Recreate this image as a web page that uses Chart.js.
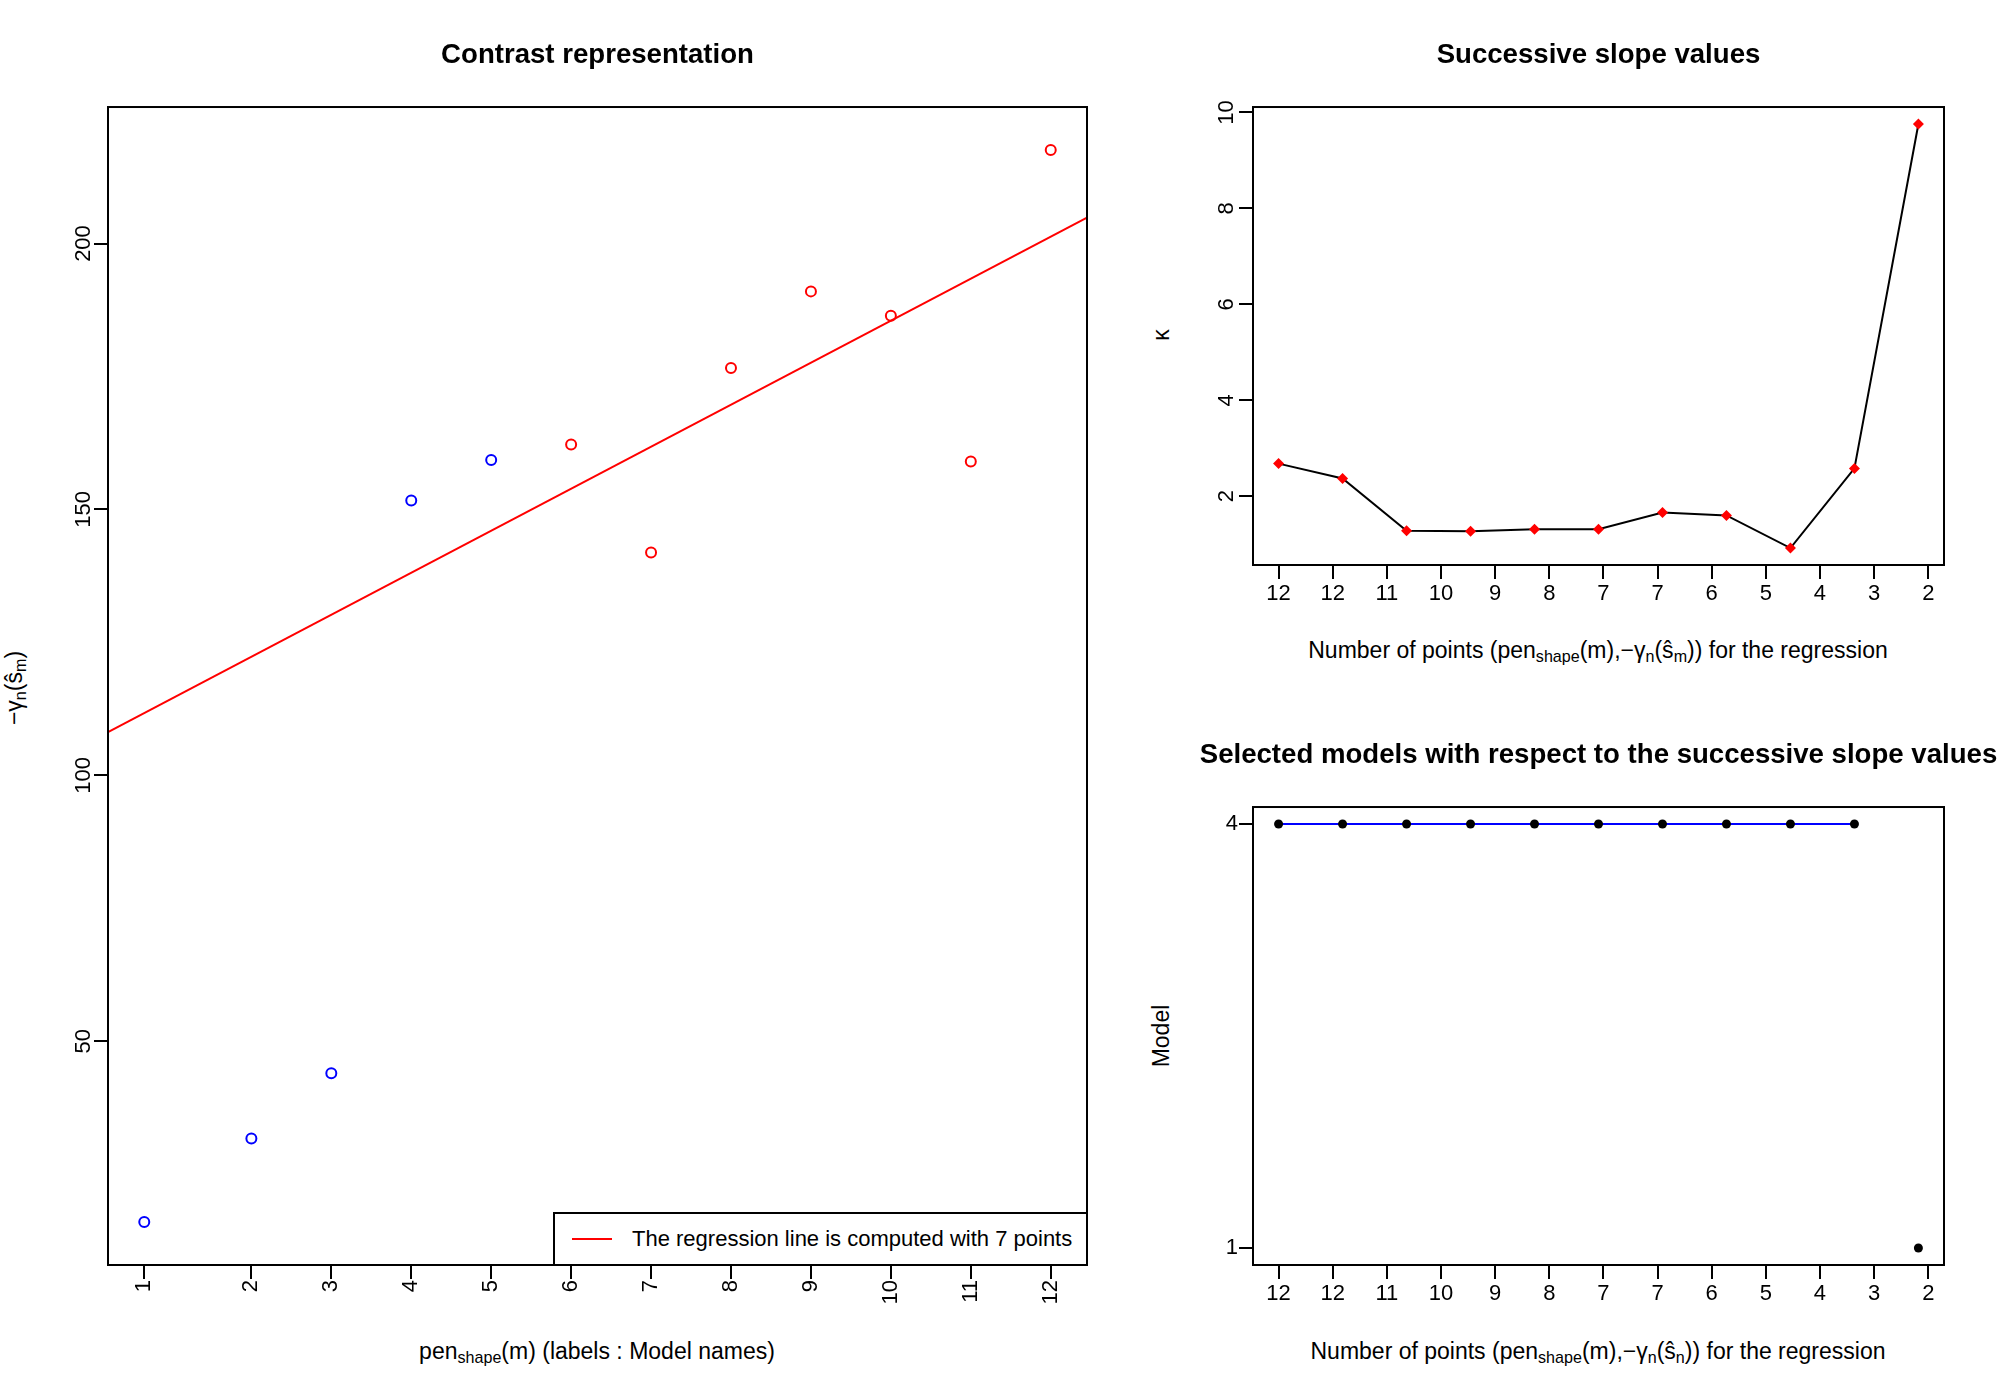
<!DOCTYPE html>
<html>
<head>
<meta charset="utf-8">
<script src="https://cdn.jsdelivr.net/npm/chart.js@4.4.1/dist/chart.umd.min.js"></script>
<style>
  body {
    margin: 0;
    width: 2000px;
    height: 1400px;
    position: relative;
    overflow: hidden;
    background: #fff;
    font-family: "Liberation Sans", Arial, Helvetica, sans-serif;
    color: #000;
  }
  canvas {
    position: absolute;
  }
  .axis-title {
    position: absolute;
    font-size: 23px;
    white-space: nowrap;
    transform: translate(-50%, -50%);
  }
  .axis-title.vertical {
    transform: translate(-50%, -50%) rotate(-90deg);
  }
  sub {
    font-size: 70%;
    vertical-align: -0.3em;
    line-height: 0;
  }
  #legend {
    position: absolute;
    left: 553px;
    top: 1212px;
    width: 535px;
    height: 54px;
    box-sizing: border-box;
    border: 2px solid #000;
    background: #fff;
    font-size: 22px;
    display: flex;
    align-items: center;
    white-space: nowrap;
  }
  #legend .swatch {
    display: inline-block;
    width: 40px;
    height: 2px;
    background: #ff0000;
    margin-left: 17px;
    margin-right: 20px;
  }
</style>
</head>
<body>
<canvas id="contrastChart" width="1075" height="1325" style="left:60px;top:0px"></canvas>
<canvas id="slopeChart" width="803" height="615" style="left:1197px;top:0px"></canvas>
<canvas id="modelChart" width="803" height="615" style="left:1197px;top:700px"></canvas>

<div class="axis-title" style="left:597px;top:1351px">pen<sub>shape</sub>(m) (labels : Model names)</div>
<div class="axis-title vertical" style="left:14px;top:688px">&minus;&gamma;<sub>n</sub>(&#349;<sub>m</sub>)</div>
<div class="axis-title" style="left:1598px;top:650px">Number of points (pen<sub>shape</sub>(m),&minus;&gamma;<sub>n</sub>(&#349;<sub>m</sub>)) for the regression</div>
<div class="axis-title vertical" style="left:1161px;top:335px">&kappa;</div>
<div class="axis-title" style="left:1598px;top:1351px">Number of points (pen<sub>shape</sub>(m),&minus;&gamma;<sub>n</sub>(&#349;<sub>n</sub>)) for the regression</div>
<div class="axis-title vertical" style="left:1161px;top:1036px">Model</div>

<div id="legend"><span class="swatch"></span>The regression line is computed with 7 points</div>

<script>
// Left panel: contrast of each model against its penalty shape
const modelNames = ["1", "2", "3", "4", "5", "6", "7", "8", "9", "10", "11", "12"];
const penShape = [1, 2.34, 3.34, 4.34, 5.34, 6.34, 7.34, 8.34, 9.34, 10.34, 11.34, 12.34];
const contrastValues = [16.0, 31.7, 44.0, 151.7, 159.3, 162.2, 141.9, 176.6, 191.0, 186.4, 159.0, 217.6];
const contrastTicks = [50, 100, 150, 200];
const regressionPointCount = 7;
const regressionIntercept = 103.8;
const regressionSlope = 7.9;

// Top right panel: successive slope values
const slopeTickLabels = ["12", "12", "11", "10", "9", "8", "7", "7", "6", "5", "4", "3", "2"];
const slopeSteps = [1, 2, 3, 4, 5, 6, 7, 8, 9, 10, 11];
const kappaValues = [2.68, 2.37, 1.28, 1.27, 1.31, 1.31, 1.66, 1.6, 0.92, 2.58, 9.76];
const kappaTicks = [2, 4, 6, 8, 10];

// Bottom right panel: model selected for each slope
const selectedModels = [4, 4, 4, 4, 4, 4, 4, 4, 4, 4, 1];
const modelTicks = [1, 4];

Chart.defaults.font.family = '"Liberation Sans", Arial, Helvetica, sans-serif';
Chart.defaults.color = "#000";

// Axis limits padded by 4% on each side, like R does
function paddedRange(values) {
  const lo = Math.min(...values);
  const hi = Math.max(...values);
  const pad = (hi - lo) * 0.04;
  return { min: lo - pad, max: hi + pad };
}

// Draw the full box around the plotting region
const boxFrame = {
  id: "boxFrame",
  afterDatasetsDraw(chart) {
    const { ctx, chartArea } = chart;
    ctx.save();
    ctx.strokeStyle = "#000";
    ctx.lineWidth = 2;
    ctx.strokeRect(
      chartArea.left,
      chartArea.top,
      chartArea.right - chartArea.left,
      chartArea.bottom - chartArea.top
    );
    ctx.restore();
  },
};

const tickMarks = {
  drawOnChartArea: false,
  drawTicks: true,
  tickLength: 14,
  color: "#000",
  lineWidth: 2,
};

function titleOptions(text) {
  return {
    display: true,
    text: text,
    color: "#000",
    font: { size: 27.6, weight: "bold", lineHeight: 1.2 },
    padding: { top: 38.4, bottom: 35.5 },
  };
}

const basePlugins = (text) => ({
  legend: { display: false },
  tooltip: { enabled: false },
  title: titleOptions(text),
});

// Empty right-hand axis, same width as the left one, so the title is centred over the box
function spacerAxis(width) {
  return {
    type: "linear",
    position: "right",
    display: true,
    ticks: { display: false },
    grid: { display: false },
    border: { display: false },
    afterFit: (scale) => {
      scale.width = width;
    },
  };
}

// ---------- Contrast representation ----------
const penRange = paddedRange(penShape);
const contrastRange = paddedRange(contrastValues);
const splitAt = contrastValues.length - regressionPointCount;

const bluePoints = penShape
  .slice(0, splitAt)
  .map((x, i) => ({ x: x, y: contrastValues[i] }));
const redPoints = penShape
  .slice(splitAt)
  .map((x, i) => ({ x: x, y: contrastValues[splitAt + i] }));
const regressionLine = [penRange.min, penRange.max].map((x) => ({
  x: x,
  y: regressionIntercept + regressionSlope * x,
}));

new Chart(document.getElementById("contrastChart"), {
  type: "scatter",
  data: {
    datasets: [
      {
        data: bluePoints,
        pointStyle: "circle",
        pointRadius: 5,
        pointBorderWidth: 2,
        pointBorderColor: "#0000ff",
        pointBackgroundColor: "rgba(0,0,0,0)",
      },
      {
        data: redPoints,
        pointStyle: "circle",
        pointRadius: 5,
        pointBorderWidth: 2,
        pointBorderColor: "#ff0000",
        pointBackgroundColor: "rgba(0,0,0,0)",
      },
      {
        data: regressionLine,
        showLine: true,
        pointRadius: 0,
        borderColor: "#ff0000",
        borderWidth: 2,
      },
    ],
  },
  options: {
    responsive: false,
    animation: false,
    events: [],
    layout: { padding: 0 },
    plugins: basePlugins("Contrast representation"),
    scales: {
      x: {
        type: "linear",
        bounds: "data",
        min: penRange.min,
        max: penRange.max,
        afterBuildTicks: (scale) => {
          scale.ticks = penShape.map((v) => ({ value: v }));
        },
        afterFit: (scale) => {
          scale.height = 60;
        },
        ticks: {
          callback: (value, index) => modelNames[index],
          minRotation: 90,
          maxRotation: 90,
          autoSkip: false,
          padding: 1,
          font: { size: 22 },
        },
        grid: tickMarks,
        border: { display: false },
      },
      y: {
        type: "linear",
        bounds: "data",
        min: contrastRange.min,
        max: contrastRange.max,
        afterBuildTicks: (scale) => {
          scale.ticks = contrastTicks.map((v) => ({ value: v }));
        },
        afterFit: (scale) => {
          scale.width = 48;
        },
        ticks: {
          minRotation: 90,
          maxRotation: 90,
          crossAlign: "center",
          padding: -8,
          font: { size: 22 },
        },
        grid: tickMarks,
        border: { display: false },
      },
      yRight: spacerAxis(48),
    },
  },
  plugins: [boxFrame],
});

// ---------- Successive slope values ----------
const stepRange = paddedRange(slopeSteps);
const slopeTickAt = slopeTickLabels.map((_, k) => 1 + (k * 11) / 13);

function stepAxis() {
  return {
    type: "linear",
    bounds: "data",
    min: stepRange.min,
    max: stepRange.max,
    afterBuildTicks: (scale) => {
      scale.ticks = slopeTickAt.map((v) => ({ value: v }));
    },
    afterFit: (scale) => {
      scale.height = 50;
    },
    ticks: {
      callback: (value, index) => slopeTickLabels[index],
      maxRotation: 0,
      autoSkip: false,
      padding: 2,
      font: { size: 22 },
    },
    grid: tickMarks,
    border: { display: false },
  };
}

const kappaRange = paddedRange(kappaValues);

new Chart(document.getElementById("slopeChart"), {
  type: "scatter",
  data: {
    datasets: [
      {
        data: slopeSteps.map((x, i) => ({ x: x, y: kappaValues[i] })),
        showLine: true,
        borderColor: "#000",
        borderWidth: 2,
        pointStyle: "rectRot",
        pointRadius: 5.5,
        pointBorderWidth: 0,
        pointBackgroundColor: "#ff0000",
        pointBorderColor: "#ff0000",
      },
    ],
  },
  options: {
    responsive: false,
    animation: false,
    events: [],
    layout: { padding: 0 },
    plugins: basePlugins("Successive slope values"),
    scales: {
      x: stepAxis(),
      y: {
        type: "linear",
        bounds: "data",
        min: kappaRange.min,
        max: kappaRange.max,
        afterBuildTicks: (scale) => {
          scale.ticks = kappaTicks.map((v) => ({ value: v }));
        },
        afterFit: (scale) => {
          scale.width = 56;
        },
        ticks: {
          minRotation: 90,
          maxRotation: 90,
          crossAlign: "center",
          padding: 0,
          font: { size: 22 },
        },
        grid: tickMarks,
        border: { display: false },
      },
      yRight: spacerAxis(56),
    },
  },
  plugins: [boxFrame],
});

// ---------- Selected models ----------
const modelRange = paddedRange(selectedModels);
const modelPoints = slopeSteps.map((x, i) => ({ x: x, y: selectedModels[i] }));
const plateauPoints = modelPoints.filter((p) => p.y === selectedModels[0]);

new Chart(document.getElementById("modelChart"), {
  type: "scatter",
  data: {
    datasets: [
      {
        data: modelPoints,
        pointStyle: "circle",
        pointRadius: 4.5,
        pointBorderWidth: 0,
        pointBackgroundColor: "#000",
        pointBorderColor: "#000",
      },
      {
        data: plateauPoints,
        showLine: true,
        pointRadius: 0,
        borderColor: "#0000ff",
        borderWidth: 2,
      },
    ],
  },
  options: {
    responsive: false,
    animation: false,
    events: [],
    layout: { padding: 0 },
    plugins: basePlugins("Selected models with respect to the successive slope values"),
    scales: {
      x: stepAxis(),
      y: {
        type: "linear",
        bounds: "data",
        min: modelRange.min,
        max: modelRange.max,
        afterBuildTicks: (scale) => {
          scale.ticks = modelTicks.map((v) => ({ value: v }));
        },
        afterFit: (scale) => {
          scale.width = 56;
        },
        ticks: {
          padding: 1,
          font: { size: 22 },
        },
        grid: tickMarks,
        border: { display: false },
      },
      yRight: spacerAxis(56),
    },
  },
  plugins: [boxFrame],
});
</script>
</body>
</html>
